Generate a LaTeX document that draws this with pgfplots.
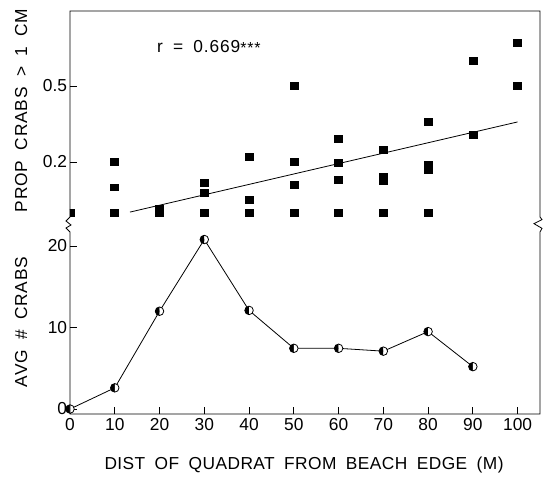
\documentclass[border=0pt]{standalone}
\usepackage{fontspec}
\setmainfont{Liberation Sans}
\newfontfamily\labfont[LetterSpace=5,WordSpace=1.8]{Liberation Sans}
\newfontfamily\xlabfont[LetterSpace=2.5,WordSpace=1.8]{Liberation Sans}
\usepackage{pgfplots}
\pgfplotsset{compat=1.18}
\begin{document}
\begin{tikzpicture}
\useasboundingbox (-52.5pt,-46.5pt) rectangle (357.75pt,310.5pt);
\pgfplotsset{
  every axis/.append style={
    scale only axis, width=352.5pt,
    xmin=0, xmax=105,
    axis line style={draw=none},
    tick align=inside, major tick length=5pt,
    tick style={black, line width=0.6pt},
    xtick pos=bottom, ytick pos=left,
    tick label style={font=\fontsize{13}{15}\selectfont},
    /pgf/number format/assume math mode=true,
    yticklabel style={inner xsep=2pt},
    label style={font=\labfont\fontsize{13}{15}\selectfont},
  }
}
\begin{axis}[name=bot, at={(0,0)}, anchor=south west, height=141.75pt,
  ymin=-0.61, ymax=22.58, ytick={0,10,20}, xtick={0,10,...,100},
  xlabel={DIST OF QUADRAT FROM BEACH EDGE (M)},
  xlabel style={at={(axis description cs:0.498,0)}, anchor=center, yshift=-38.25pt,
    font=\xlabfont\fontsize{13}{15}\selectfont},
  ylabel={AVG \# CRABS},
  ylabel style={at={(axis description cs:-0.104,0.487)}, anchor=center},
]
\addplot[black, line width=0.6pt, mark=halfcircle*, mark size=3.2pt,
  mark options={rotate=90, fill=black, solid}] coordinates {
(0,0) (10,2.6) (20,12.0) (30,20.8) (40,12.1) (50,7.45) (60,7.45) (70,7.1) (80,9.5) (90,5.2)};
\end{axis}
\begin{axis}[name=top, at={(0,141.75pt)}, anchor=south west, height=160.5pt,
  ymin=-0.049, ymax=0.796, ytick={0.2,0.5}, xtick=\empty,
  clip marker paths=true,
  ylabel={PROP CRABS > 1 CM},
  ylabel style={at={(axis description cs:-0.104,0.535)}, anchor=center},
]
\addplot[only marks, mark=square*, mark size=3pt, mark options={yscale=0.87}] coordinates {
(0,0)
(10,0.20) (10,0.10) (10,0)
(20,0.015) (20,0)
(30,0.119) (30,0.078) (30,0)
(40,0.22) (40,0.052) (40,0)
(50,0.5) (50,0.2) (50,0.111) (50,0)
(60,0.29) (60,0.198) (60,0.13) (60,0)
(70,0.247) (70,0.14) (70,0.125) (70,0)
(80,0.358) (80,0.188) (80,0.17) (80,0)
(90,0.599) (90,0.309)
(100,0.67) (100,0.5)};
\addplot[black, line width=0.6pt] coordinates {(13.4,0.002) (100,0.358)};
\node[anchor=west, font=\labfont\fontsize{13}{15}\selectfont] at (axis cs:18.4,0.654)
  {r = 0.669\raisebox{-1.2pt}{\fontsize{12}{12}\selectfont ***}};
\end{axis}
\draw[line width=0.6pt] (top.north west) -- ([yshift=6pt]bot.north west)
  -- ++(-3pt,-3pt) -- ++(3.75pt,-3pt) -- ++(-3.75pt,-2.25pt) -- ++(3pt,-3pt)
  -- (bot.south west) -- (bot.south east) -- ([yshift=-5.25pt]bot.north east)
  -- ++(1.5pt,2.75pt) -- ++(-6pt,3.5pt) -- ++(6pt,3pt) -- ++(-1.5pt,2pt)
  -- (top.north east) -- cycle;
\end{tikzpicture}
\end{document}
